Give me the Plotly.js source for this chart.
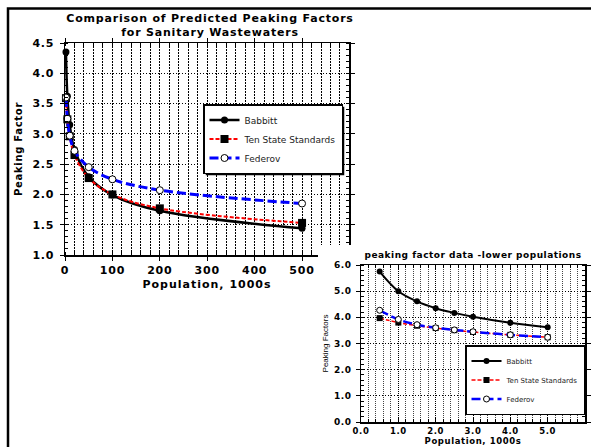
<!DOCTYPE html>
<html><head><meta charset="utf-8">
<script src="https://cdn.plot.ly/plotly-3.0.1.min.js"></script>
<style>
html,body{margin:0;padding:0;background:#fff}#chart{width:591px;height:447px}
#chart .gtitle{letter-spacing:0.8px}
#chart .xtitle{letter-spacing:1px}
#chart .ytitle{letter-spacing:0.7px}
#chart .x3title{letter-spacing:0.6px}
#chart .annotation-text{letter-spacing:0.5px}
#chart .xtick text,#chart .ytick text{letter-spacing:0.8px}
#chart .x3tick text,#chart .y3tick text{letter-spacing:0.6px}
</style>
</head><body><div id="chart"></div>
<script>
// ---- data ----
const seriesNames = ['Babbitt', 'Ten State Standards', 'Federov'];
const popMain = [2, 5, 10, 20, 50, 100, 200, 500];
const babbittMain = [4.35, 3.62, 3.15, 2.74, 2.29, 1.99, 1.73, 1.44];
const tenStateMain = [3.59, 3.24, 2.96, 2.65, 2.27, 2.00, 1.77, 1.53];
const federovMain = [3.60, 3.25, 2.97, 2.72, 2.45, 2.25, 2.07, 1.85];
const popLow = [0.5, 1.0, 1.5, 2.0, 2.5, 3.0, 4.0, 5.0];
const babbittLow = [5.75, 5.00, 4.61, 4.35, 4.17, 4.02, 3.79, 3.62];
const tenStateLow = [3.97, 3.80, 3.68, 3.59, 3.51, 3.44, 3.33, 3.24];
const federovLow = [4.27, 3.92, 3.72, 3.60, 3.52, 3.45, 3.33, 3.24];

const W = 591, H = 447;
const px = v => v / W;
const py = v => 1 - v / H;

const FONT = 'DejaVu Sans';
const boldFont = (s) => ({family: FONT, size: s, color: '#000', weight: 'bold'});

const styles = [
  {line: {color: '#000000', width: 2.5, shape: 'spline'}, marker: {symbol: 'circle', color: '#000', line: {color: '#000', width: 0}}},
  {line: {color: '#ff0000', width: 2, dash: '4px,2px', shape: 'spline'}, marker: {symbol: 'square', color: '#000', line: {color: '#000', width: 0}}},
  {line: {color: '#0000ff', width: 3, dash: '9px,4px', shape: 'spline'}, marker: {symbol: 'circle', color: '#fff', line: {color: '#000', width: 1}}}
];

const mainSeries = [babbittMain, tenStateMain, federovMain];
const lowSeries = [babbittLow, tenStateLow, federovLow];
const mainSizes = [7, 8, 7];
const lowSizes = [6, 6, 6];
const lowWidths = [2, 1.5, 2.5];

const traces = [];
mainSeries.forEach((ys, i) => {
  traces.push({
    type: 'scatter', mode: 'lines+markers', name: seriesNames[i],
    x: popMain, y: ys, xaxis: 'x', yaxis: 'y', legend: 'legend',
    line: Object.assign({}, styles[i].line),
    marker: Object.assign({}, styles[i].marker, {size: mainSizes[i]}),
    cliponaxis: false, hoverinfo: 'x+y+name'
  });
});
lowSeries.forEach((ys, i) => {
  traces.push({
    type: 'scatter', mode: 'lines+markers', name: seriesNames[i],
    x: popLow, y: ys, xaxis: 'x3', yaxis: 'y3', legend: 'legend2',
    line: Object.assign({}, styles[i].line, {width: lowWidths[i]}),
    marker: Object.assign({}, styles[i].marker, {size: lowSizes[i]}),
    cliponaxis: false, hoverinfo: 'x+y+name'
  });
});

const gridV = {gridcolor: '#000', griddash: '2px,1px', gridwidth: 1};
const gridH = {gridcolor: '#000', griddash: '1px,2px', gridwidth: 1};

const layout = {
  width: W, height: H,
  margin: {l: 0, r: 0, t: 0, b: 0},
  paper_bgcolor: '#fff', plot_bgcolor: '#fff',
  showlegend: true,
  title: {
    text: 'Comparison of Predicted Peaking Factors<br>for Sanitary Wastewaters',
    font: boldFont(11), x: px(210), xref: 'paper', xanchor: 'center',
    y: py(22), yref: 'paper', yanchor: 'top'
  },
  xaxis: Object.assign({
    domain: [px(65), px(349)], range: [0, 599], anchor: 'y',
    tick0: 0, dtick: 100, tickformat: 'd',
    ticks: 'outside', ticklen: 4, tickcolor: '#000', tickwidth: 1,
    showline: true, linecolor: '#000', linewidth: 1.5, mirror: 'ticks',
    showgrid: true, zeroline: false,
    minor: {dtick: 20, showgrid: true, gridcolor: '#000', griddash: '2px,1px', gridwidth: 1, ticks: 'inside', ticklen: 3, tickcolor: '#000'},
    tickfont: boldFont(11),
    title: {text: 'Population, 1000s', font: boldFont(11), standoff: 4},
    fixedrange: true
  }, gridV),
  yaxis: Object.assign({
    domain: [py(255), py(43)], range: [1, 4.5], anchor: 'x',
    tick0: 1, dtick: 0.5, tickformat: '.1f',
    ticks: 'outside', ticklen: 4, tickcolor: '#000', tickwidth: 1,
    showline: true, linecolor: '#000', linewidth: 1.5, mirror: 'ticks',
    showgrid: true, zeroline: false,
    minor: {dtick: 0.1, showgrid: false, ticks: 'inside', ticklen: 3, tickcolor: '#000'},
    tickfont: boldFont(11), ticklabelstandoff: 3,
    title: {text: 'Peaking Factor', font: boldFont(10), standoff: 10},
    fixedrange: true
  }, gridH),
  // blank panel that hides the corner of the main chart under the inset
  xaxis2: {domain: [px(318), 1], range: [0, 1], anchor: 'y2', visible: false, fixedrange: true},
  yaxis2: {domain: [0, py(245)], range: [0, 1], anchor: 'x2', visible: false, fixedrange: true},
  xaxis3: Object.assign({
    domain: [px(361), px(585)], range: [0, 6], anchor: 'y3',
    tick0: 0, dtick: 1, tickformat: '.1f',
    ticks: 'inside', ticklen: 4, tickcolor: '#000', tickwidth: 1,
    showline: true, linecolor: '#000', linewidth: 1.5, mirror: 'ticks',
    showgrid: true, zeroline: false,
    minor: {dtick: 0.2, showgrid: true, gridcolor: '#444', griddash: '1px,1px', gridwidth: 1, ticks: 'inside', ticklen: 3, tickcolor: '#000'},
    tickfont: boldFont(8.5), ticklabelstandoff: 0,
    title: {text: 'Population, 1000s', font: boldFont(8.5), standoff: 0},
    fixedrange: true
  }, {gridcolor: '#000', griddash: '1px,1px', gridwidth: 1}),
  yaxis3: Object.assign({
    domain: [py(422), py(265)], range: [0, 6], anchor: 'x3',
    tick0: 0, dtick: 1, tickformat: '.1f',
    ticks: 'outside', ticklen: 4, tickcolor: '#000', tickwidth: 1,
    showline: true, linecolor: '#000', linewidth: 1.5, mirror: 'ticks',
    showgrid: true, zeroline: false,
    minor: {dtick: 0.2, showgrid: false, ticks: 'inside', ticklen: 3, tickcolor: '#000'},
    tickfont: boldFont(9), ticklabelstandoff: 2,
    title: {text: 'Peaking Factors', font: {family: 'Liberation Sans', size: 8, color: '#000'}, standoff: 6},
    fixedrange: true
  }, {gridcolor: '#000', griddash: '1px,2px', gridwidth: 1}),
  legend: {
    x: px(203), y: py(104), xref: 'paper', yref: 'paper', xanchor: 'left', yanchor: 'top',
    bgcolor: '#fff', bordercolor: '#000', borderwidth: 1.5,
    font: {family: FONT, size: 9, color: '#222'}, itemwidth: 30, tracegroupgap: 0
  },
  legend2: {
    x: px(585), y: py(345), xref: 'paper', yref: 'paper', xanchor: 'right', yanchor: 'top',
    bgcolor: '#fff', bordercolor: '#000', borderwidth: 1.5,
    font: {family: FONT, size: 7, color: '#222'}, itemwidth: 30, tracegroupgap: 0
  },
  annotations: [{
    text: 'peaking factor data -lower populations', showarrow: false,
    xref: 'paper', yref: 'paper', x: px(473), y: py(255), xanchor: 'center', yanchor: 'middle',
    font: boldFont(9)
  }],
  shapes: [
    {type: 'rect', xref: 'paper', yref: 'paper', x0: px(8), x1: 1.05, y0: -0.05, y1: py(8.5),
     line: {color: '#000', width: 2.5}, fillcolor: 'rgba(0,0,0,0)', layer: 'below'},
    {type: 'rect', xref: 'x2', yref: 'y2', x0: 0, x1: 1, y0: 0, y1: 1,
     line: {width: 0}, fillcolor: '#fff', layer: 'below'}
  ]
};

const gd = document.getElementById('chart');
Plotly.newPlot(gd, traces, layout, {displayModeBar: false, staticPlot: true}).then(() => {
  // drop shadow behind each legend box, like the original
  const NS = 'http://www.w3.org/2000/svg';
  gd.querySelectorAll('g.legend').forEach(lg => {
    const bg = lg.querySelector('rect.bg');
    if (!bg) return;
    const w = +bg.getAttribute('width'), h = +bg.getAttribute('height');
    const x = +bg.getAttribute('x') || 0, y = +bg.getAttribute('y') || 0;
    const sh = document.createElementNS(NS, 'rect');
    sh.setAttribute('class', 'legend-shadow');
    sh.setAttribute('x', x + 2);
    sh.setAttribute('y', y + 2);
    sh.setAttribute('width', w);
    sh.setAttribute('height', h);
    sh.setAttribute('transform', lg.getAttribute('transform') || '');
    sh.style.fill = '#000';
    lg.parentNode.insertBefore(sh, lg);
  });
});
</script>
</body></html>
